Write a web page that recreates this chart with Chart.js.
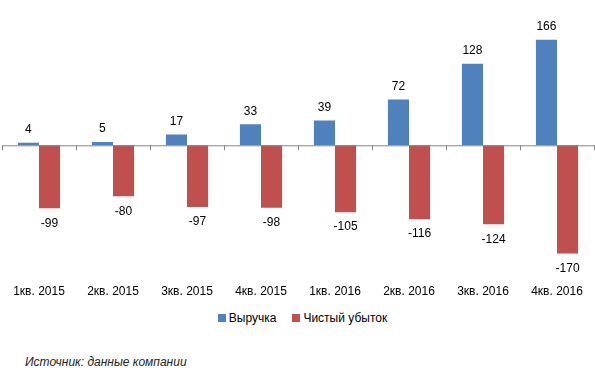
<!DOCTYPE html>
<html>
<head>
<meta charset="utf-8">
<script src="https://cdn.jsdelivr.net/npm/chart.js@4"></script>
<style>
    body { margin: 0; background: #fff; }
    #wrap { position: absolute; left: 0; top: 0; width: 595px; height: 311px; }
    #legend { position: absolute; left: 5px; top: 311px; width: 595px; text-align: center; font: 12px "Liberation Sans", sans-serif; color: #000; }
    #legend span.item { display: inline-block; margin: 0 8px; }
    #legend span.box { display: inline-block; width: 8px; height: 8px; margin-right: 3px; vertical-align: 0px; }
    #src { position: absolute; left: 25px; top: 355px; font: italic 12px "Liberation Sans", sans-serif; color: #222; }
</style>
</head>
<body>
<div id="wrap"><canvas id="myChart"></canvas></div>
<div id="legend"></div>
<div id="src">Источник: данные компании</div>
<script>
const labels = ['1кв. 2015', '2кв. 2015', '3кв. 2015', '4кв. 2015', '1кв. 2016', '2кв. 2016', '3кв. 2016', '4кв. 2016']
const revenue = [4, 5, 17, 33, 39, 72, 128, 166]
const netLoss = [-99, -80, -97, -98, -105, -116, -124, -170]

// zero line with category ticks, plus value labels
const axisAndLabels = {
    id: 'axisAndLabels',
    afterDatasetsDraw(chart) {
        const ctx = chart.ctx
        const area = chart.chartArea
        const y0 = chart.scales.y.getPixelForValue(0)
        ctx.save()
        ctx.strokeStyle = '#868686'
        ctx.lineWidth = 1
        ctx.beginPath()
        ctx.moveTo(area.left, y0 + 0.5)
        ctx.lineTo(area.right, y0 + 0.5)
        let step = (area.right - area.left) / labels.length
        for (let i = 0; i <= labels.length; i++) {
            let x = Math.round(area.left + i * step) + 0.5
            ctx.moveTo(x, y0)
            ctx.lineTo(x, y0 + 5)
        }
        ctx.stroke()

        ctx.fillStyle = '#000'
        ctx.font = '12px "Liberation Sans", sans-serif'
        ctx.textAlign = 'center'
        ctx.textBaseline = 'middle'
        chart.data.datasets.forEach((ds, di) => {
            chart.getDatasetMeta(di).data.forEach((bar, i) => {
                let v = ds.data[i]
                let y = v >= 0 ? bar.y - 13 : bar.y + 15
                ctx.fillText(String(v), bar.x, y)
            })
        })
        ctx.restore()
    }
}

function renderLegend(chart) {
    let html = ''
    for (let ds of chart.data.datasets) {
        html += '<span class="item"><span class="box" style="background:' + ds.backgroundColor + '"></span>' + ds.label + '</span>'
    }
    document.getElementById('legend').innerHTML = html
}

function renderChart() {
    let ctx = document.getElementById('myChart').getContext('2d')
    let myChart = new Chart(ctx, {
        type: 'bar',
        data: {
            labels: labels,
            datasets: [{
                label: 'Выручка',
                data: revenue,
                backgroundColor: '#4F81BD'
            }, {
                label: 'Чистый убыток',
                data: netLoss,
                backgroundColor: '#C0504D'
            }]
        },
        options: {
            maintainAspectRatio: false,
            responsive: true,
            animation: false,
            layout: { padding: { left: 2, right: 1, top: 18, bottom: 0 } },
            datasets: {
                bar: { categoryPercentage: 0.57, barPercentage: 1 }
            },
            scales: {
                x: {
                    grid: { display: false, drawTicks: false },
                    border: { display: false },
                    ticks: {
                        color: '#000',
                        padding: 12,
                        maxRotation: 0,
                        font: { family: 'Liberation Sans', size: 12 }
                    }
                },
                y: {
                    display: false,
                    min: -200,
                    max: 200
                }
            },
            plugins: {
                tooltip: { enabled: false },
                legend: { display: false }
            }
        },
        plugins: [axisAndLabels]
    })
    renderLegend(myChart)
}

renderChart()
</script>
</body>
</html>
